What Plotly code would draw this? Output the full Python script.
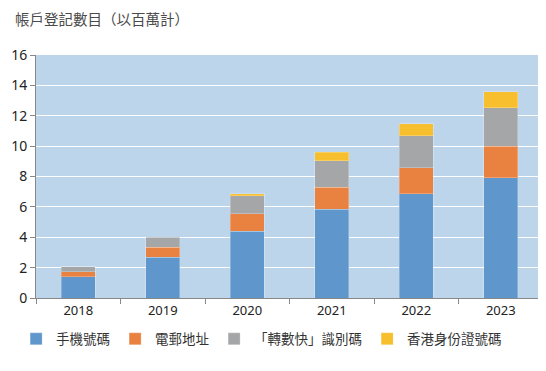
import plotly.graph_objects as go

years = ["2018", "2019", "2020", "2021", "2022", "2023"]
series_names = ["手機號碼", "電郵地址", "「轉數快」識別碼", "香港身份證號碼"]
mobile = [1.39, 2.68, 4.40, 5.83, 6.86, 7.91]
email = [0.33, 0.66, 1.14, 1.47, 1.71, 2.07]
fps_id = [0.33, 0.66, 1.18, 1.73, 2.11, 2.54]
hkid = [0.0, 0.0, 0.16, 0.57, 0.79, 1.06]
y_ticks = [0, 2, 4, 6, 8, 10, 12, 14, 16]

colors = ["#5F97CD", "#E98140", "#A5A6A8", "#F7BE2D"]
values = [mobile, email, fps_id, hkid]

fig = go.Figure()
for name, vals, c in zip(series_names, values, colors):
    fig.add_trace(go.Bar(
        x=years, y=vals, name=name,
        marker=dict(color=c, line=dict(color="rgba(255,255,255,0.25)", width=1)),
    ))

# page body has an 8px default margin; figure is sized to compensate
font_cjk = "Noto Sans CJK TC, Noto Sans, sans-serif"
fig.update_layout(
    barmode="stack",
    bargap=0.6,
    width=538, height=363,
    margin=dict(l=28, r=3, t=47, b=73, autoexpand=False),
    paper_bgcolor="white",
    plot_bgcolor="#BDD5EA",
    font=dict(family=font_cjk, color="#222222", size=13),
    title=dict(text="帳戶登記數目（以百萬計）", x=0.013, xanchor="left", y=0.966, yanchor="middle",
               font=dict(size=14.5, color="#4a4a4a", family=font_cjk)),
    legend=dict(orientation="h", x=0.445, xanchor="center", y=-0.169, yanchor="middle",
                font=dict(size=13.5, color="#333333", family=font_cjk),
                traceorder="normal", itemwidth=30, tracegroupgap=0),
    xaxis=dict(tickson="boundaries", ticks="outside", ticklen=5, tickcolor="#888888",
               showline=True, linecolor="#888888", linewidth=1, showgrid=False, automargin=False,
               tickfont=dict(size=13, color="#222222", family="Noto Sans, sans-serif")),
    yaxis=dict(range=[0, 16], tickvals=y_ticks, ticks="outside", ticklen=5, tickcolor="#888888",
               showline=True, linecolor="#888888", linewidth=1, automargin=False,
               gridcolor="white", gridwidth=1.3, zeroline=False,
               tickfont=dict(size=14, color="#222222", family="Noto Sans, sans-serif")),
)

fig.write_html("out.html")
